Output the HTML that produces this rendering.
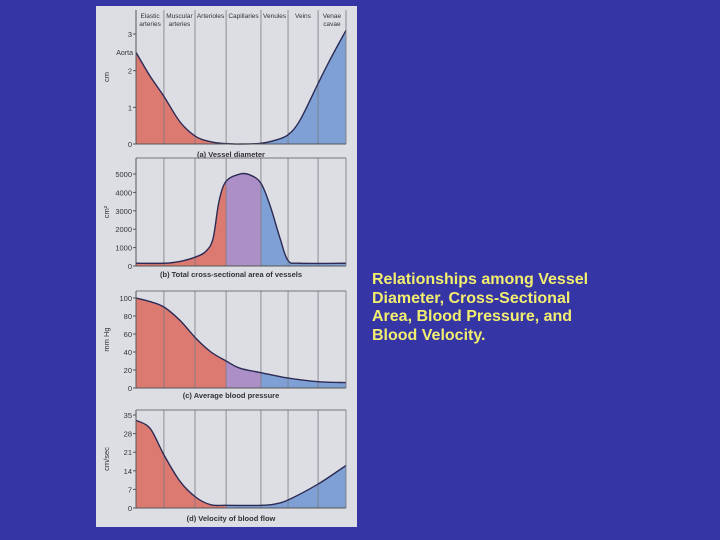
<!DOCTYPE html>
<html><head><meta charset="utf-8"><style>
html,body{margin:0;padding:0;background:#3535a6;width:720px;height:540px;overflow:hidden;font-family:"Liberation Sans",Arial,sans-serif}
#caption{position:absolute;left:372px;top:271px;color:#f2ee6e;font-weight:bold;font-size:16px;line-height:18.5px;margin:0}
svg{position:absolute;left:0;top:0}
</style></head><body>
<svg id="fig" width="720" height="540"></svg>
<p id="caption">Relationships among Vessel<br>Diameter, Cross-Sectional<br>Area, Blood Pressure, and<br>Blood Velocity.</p>
<script>
// x positions in percent along the vessel path (0 = aorta, 100 = venae cavae)
const diamX=[0,6.7,13.3,21,28.6,35.7,42.9,49.5,59.5,66.2,72.4,78.1,86.7,92.4,100];
const diamY=[2.5,1.85,1.3,0.6,0.2,0.06,0.01,0,0.02,0.1,0.25,0.65,1.65,2.3,3.1];
const areaX=[0,13.3,21,28.6,33.3,36.7,39.5,42.9,49.5,54.3,59.5,63.8,68.6,72.4,78.1,100];
const areaY=[150,150,250,500,800,1500,3500,4600,5000,4950,4500,3300,1500,300,150,150];
const presX=[0,6.7,13.3,21,28.6,35.7,42.9,49.5,59.5,72.4,86.7,100];
const presY=[100,96,90,75,55,40,30,22,17,11,7,6];
const velX=[0,6.7,13.3,21,28.6,35.7,42.9,59.5,66.2,72.4,86.7,100];
const velY=[33,30,20,10,4,1.2,1,1,1.5,3,9,16];
const topLabels=[["Elastic","arteries"],["Muscular","arteries"],["Arterioles"],["Capillaries"],["Venules"],["Veins"],["Venae","cavae"]];
const ticksA=[0,1,2,3],ticksB=[0,1000,2000,3000,4000,5000],ticksC=[0,20,40,60,80,100],ticksD=[0,7,14,21,28,35];
const gridPct=[13.3,28.1,42.9,59.5,72.4,86.7];

const NS="http://www.w3.org/2000/svg";
const svg=document.getElementById('fig');
function mk(t,a,p){const e=document.createElementNS(NS,t);for(const k in a)e.setAttribute(k,a[k]);(p||svg).appendChild(e);return e;}
const X0=136,X1=346;
const sx=p=>X0+p/100*(X1-X0);
const bg=mk('rect',{x:96,y:6,width:261,height:521,fill:'#dddee4'});



function panel(name,top,y0px,vTop,vTopPx,xs,ys,ticks,unit,cap,capY,box,splits){
  const sy=v=>y0px-(v/vTop)*(y0px-vTopPx);
  const g=mk('g',{});
  
  
  const clipId=name+'-clip';
  const cp=mk('clipPath',{id:clipId},g);
  const pts=xs.map((x,i)=>[sx(x),sy(ys[i])]);
  let line='M'+pts[0][0]+','+pts[0][1];
  for(let i=0;i<pts.length-1;i++){
    const p0=pts[i-1]||pts[i],p1=pts[i],p2=pts[i+1],p3=pts[i+2]||p2;
    const c1=[p1[0]+(p2[0]-p0[0])/6,p1[1]+(p2[1]-p0[1])/6],c2=[p2[0]-(p3[0]-p1[0])/6,p2[1]-(p3[1]-p1[1])/6];
    line+=` C${c1[0]},${c1[1]} ${c2[0]},${c2[1]} ${p2[0]},${p2[1]}`;
  }
  mk('path',{d:line+` L${sx(100)},${y0px} L${sx(0)},${y0px}Z`},cp);
  const cols=[['#dc7a72',0,splits[0]],['#ab8fc6',splits[0],splits[1]],['#7fa0d4',splits[1],100]];
  cols.forEach((c,i)=>{const r=mk('rect',{x:sx(c[1]),y:top,width:sx(c[2])-sx(c[1]),height:y0px-top,fill:c[0],'clip-path':`url(#${clipId})`},g);
    });
  gridPct.forEach(p=>{const l=mk('line',{x1:sx(p),x2:sx(p),y1:top,y2:y0px,stroke:'#7a7a80','stroke-width':0.8},g);
    });
  const c=mk('path',{d:line,fill:'none',stroke:'#2b2b55','stroke-width':1.4},g);
  
  mk('line',{x1:X0,x2:X1,y1:y0px,y2:y0px,stroke:'#555','stroke-width':1},g);
  mk('line',{x1:X0,x2:X0,y1:top,y2:y0px,stroke:'#555','stroke-width':1},g);
  mk('line',{x1:X1,x2:X1,y1:top,y2:y0px,stroke:'#777','stroke-width':0.8},g);
  if(box)mk('line',{x1:X0,x2:X1,y1:top,y2:top,stroke:'#555','stroke-width':0.8},g);
  ticks.forEach(t=>{const tx=mk('text',{x:X0-4,y:sy(t)+3,'font-size':7.5,'text-anchor':'end',fill:'#333'},g);tx.textContent=t;
    
    mk('line',{x1:X0-3,x2:X0,y1:sy(t),y2:sy(t),stroke:'#555'},g);});
  const u=mk('text',{x:0,y:0,'font-size':7.5,fill:'#333','text-anchor':'middle',transform:`translate(109,${(top+y0px)/2}) rotate(-90)`},g);u.textContent=unit;
  
  const ct=mk('text',{x:(X0+X1)/2-10,y:capY,'font-size':7.5,fill:'#333','text-anchor':'middle','font-weight':'bold'},g);ct.textContent=cap;
  
}
panel('panel-diameter',10,144,3,34,diamX,diamY,ticksA,'cm','(a) Vessel diameter',157,false,[42.9,42.9]);
panel('panel-area',158,266,5000,174,areaX,areaY,ticksB,'cm²','(b) Total cross-sectional area of vessels',277,true,[42.9,59.5]);
panel('panel-pressure',291,388,100,298,presX,presY,ticksC,'mm Hg','(c) Average blood pressure',398,true,[42.9,59.5]);
panel('panel-velocity',410,508,35,415,velX,velY,ticksD,'cm/sec','(d) Velocity of blood flow',521,true,[42.9,42.9]);
const aorta=mk('text',{x:133,y:55,'font-size':7,fill:'#333','text-anchor':'end'});aorta.textContent='Aorta';

const mids=[6.7,20.7,35.5,51.2,66,79.5,93.3];
topLabels.forEach((l,i)=>{l.forEach((s,j)=>{const t=mk('text',{x:sx(mids[i]),y:18+j*8,'font-size':6.5,fill:'#333','text-anchor':'middle'});t.textContent=s;
  });});
</script>
</body></html>
